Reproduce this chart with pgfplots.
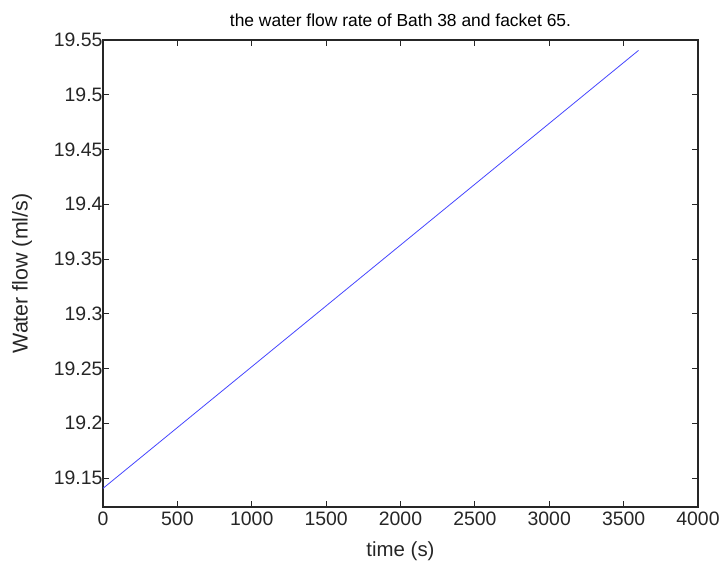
\documentclass[border=0pt]{standalone}
\usepackage{pgfplots}
\pgfplotsset{compat=1.18}
\usepackage{fontspec}
\setmainfont{Liberation Sans}
\definecolor{lineblue}{RGB}{70,70,255}
\begin{document}
\begin{tikzpicture}
\path[use as bounding box] (-103bp,-57bp) rectangle (617bp,507bp);
\begin{axis}[
  at={(0,0)}, anchor=south west,
  scale only axis, width=595bp, height=467bp,
  xmin=0, xmax=4000, ymin=19.1235, ymax=19.55,
  xtick={0,500,...,4000},
  ytick={19.15,19.2,19.25,19.3,19.35,19.4,19.45,19.5,19.55},
  yticklabels={19.15,19.2,19.25,19.3,19.35,19.4,19.45,19.5,19.55},
  scaled x ticks=false,
  /pgf/number format/1000 sep={},
  /pgf/number format/assume math mode=true,
  tick align=inside,
  major tick length=6bp,
  axis line style={line width=1.3pt, black!85},
  every tick/.style={black!85, line width=0.9pt},
  tick label style={font=\fontsize{19.5}{21}\selectfont, text=black!85},
  yticklabel style={xshift=3bp},
  xticklabel style={yshift=-1bp},
  xlabel={time (s)},
  ylabel={Water flow (ml/s)},
  label style={text=black!85},
  xlabel style={font=\fontsize{20.5}{22}\selectfont, at={(axis description cs:0.5,0)}, anchor=center, yshift=-44bp},
  ylabel style={font=\fontsize{21.5}{23}\selectfont, at={(axis description cs:0,0.5)}, anchor=center, xshift=0bp, yshift=81bp},
  title={the water flow rate of Bath 38 and facket 65.},
  title style={font=\fontsize{17.5}{19}\selectfont, at={(axis description cs:0.5,1)}, anchor=center, yshift=14bp},
]
\addplot[color=lineblue, line width=0.8pt] coordinates {(0,19.1405) (3600,19.5405)};
\end{axis}
\end{tikzpicture}
\end{document}
